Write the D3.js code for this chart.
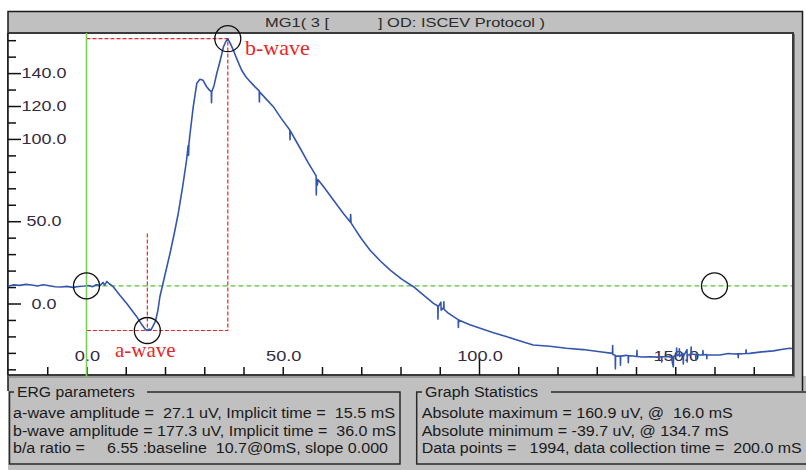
<!DOCTYPE html>
<html><head><meta charset="utf-8">
<script src="https://cdn.jsdelivr.net/npm/d3@7"></script>
<style>
body{margin:0;background:#fff}
svg{display:block}
text{font-family:"Liberation Sans",Arial,sans-serif;white-space:pre}
</style>
</head><body>
<svg id="chart" width="806" height="470"></svg>
<script>
// ---------------- data ----------------
const traceMs = [-20,-18.5,-17,-15.5,-14,-12.5,-11,-9.5,-8,-6.5,-5,-3.5,-2,-0.5,0.5,1.5,2.5,3.5,4.2,4.6,5.2,5.8,6.8,8.5,10.2,11.5,12.8,14.0,15.0,15.5,16.0,16.4,17.0,17.6,18.2,18.7,20.0,21.3,22.4,23.4,24.5,25.5,25.9,26.0,26.1,26.4,27.2,28.1,28.9,29.7,30.6,31.4,31.8,31.85,31.9,32.5,33.2,34.0,34.9,35.5,36.0,36.6,37.4,38.4,39.5,40.6,41.7,43.0,44.0,44.05,44.1,45.8,47.6,49.6,51.8,51.85,51.9,53.2,54.4,56.5,58.5,58.55,58.6,58.8,59.0,60.7,62.9,65.5,67.2,67.3,67.4,68.0,70.0,72.2,74.8,77.3,80.3,83.3,85.8,88.4,89.5,89.55,89.6,90.3,90.35,91.0,91.05,91.1,92.0,93.5,94.7,94.75,94.8,97.5,100.3,103.7,107.1,110.5,113.8,118.0,122.3,126.5,130.8,
  134.0,134.05,134.1,134.7,134.75,134.8,136.0,136.05,136.1,137.5,138.0,138.05,138.1,139.3,140.2,140.25,140.3,141.5,143.7,145.5,146.5,146.55,146.6,147.8,149.0,149.5,149.6,150.3,150.35,150.4,151.0,151.05,151.1,152.0,152.05,152.1,153.0,153.05,153.1,154.0,154.05,154.1,154.5,155.2,155.25,155.3,156.3,157.0,157.05,157.1,158.0,158.05,158.1,161.4,163.5,165.0,166.0,166.05,166.1,168.0,168.05,168.1,169.0,172.0,175.0,177.0,179.2,180];
const traceUv = [10.5,11.3,11.0,11.6,11.2,10.6,11.4,10.8,10.2,10.0,10.4,9.8,10.3,10.6,10.9,10.2,11.4,11.0,12.8,11.2,13.4,12.0,10.2,5.0,0.1,-4.0,-8.0,-12.5,-15.8,-16.4,-15.6,-16.2,-13.5,-10.5,-4.0,4.1,17.5,30.7,43,55,71,87.2,96,90,97,103.6,119.6,133.8,136.2,135.6,131.7,129.5,128.7,122.0,128.5,132.5,139.9,147.0,156,159.2,160.9,158.2,154,148,141.9,137.8,134.8,131.5,129.2,122.5,128.6,124.2,119.6,112.5,105.4,99.5,105.0,99.5,94.5,85.5,77.5,66.0,76.0,72.0,75.2,70.0,62.9,54.5,49.5,54.0,49.0,46.7,39.5,32.5,26.0,20.4,14.8,10.2,5.3,0.1,-1.5,-9.5,-2.0,0.8,-4.0,-2.5,1.0,-3.5,-5.5,-8.0,-9.8,-14.5,-10.0,-12.8,-15.1,-17.8,-20.2,-22.8,-25.2,-26.0,-27.2,-28.0,-29.3,
  -30.3,-25.5,-31.0,-31.5,-39.7,-31.8,-32.0,-37.5,-32.0,-31.5,-31.8,-36.0,-31.8,-31.9,-32.2,-28.5,-32.2,-32.5,-32.4,-32.6,-32.4,-35.5,-32.4,-32.3,-32.5,-38.5,-32.0,-31.5,-27.0,-31.8,-31.0,-27.5,-32.2,-30.5,-36.8,-32.0,-28.0,-35.5,-31.5,-30.8,-26.5,-30.8,-30.8,-31.0,-34.5,-31.0,-31.3,-31.2,-28.6,-31.2,-31.0,-33.5,-31.2,-31.3,-30.4,-30.7,-30.6,-33.0,-30.6,-30.4,-28.2,-30.4,-30.3,-29.4,-28.8,-28.0,-27.2,-27.4];

const baselineUv = 10.7;
const aWave = {ms: 15.5, uv: -16.4};
const bWave = {ms: 36.0, uv: 160.9};
const aMarkTopUv = 42.5;
const circleMs = [0, 15.5, 36.0, 160];
const circleUv = [10.7, -16.4, 160.9, 10.7];

const yTickValues = d3.range(-40, 161, 10);
const yLabelValues = [0, 50, 100, 120, 140];
const xTickValues = d3.range(-10, 171, 10);
const xLabelValues = [0, 50, 100, 150];

const titleLeft = "MG1( 3 [";
const titleRight = "] OD: ISCEV Protocol )";
const ergTitle = "ERG parameters";
const ergLines = [
  "a-wave amplitude =  27.1 uV, Implicit time =  15.5 mS",
  "b-wave amplitude = 177.3 uV, Implicit time =  36.0 mS",
  "b/a ratio =     6.55 :baseline  10.7@0mS, slope 0.000"
];
const statTitle = "Graph Statistics";
const statLines = [
  "Absolute maximum = 160.9 uV, @  16.0 mS",
  "Absolute minimum = -39.7 uV, @ 134.7 mS",
  "Data points =   1994, data collection time =  200.0 mS"
];

// ---------------- layout ----------------
const svg = d3.select("#chart");
const P = {l: 8, r: 793, t: 33, b: 375};
const x = d3.scaleLinear().domain([-20, 180]).range([P.l, P.r]);
const y = d3.scaleLinear().domain([0, 140]).range([303.5, 73.1]);

function txt(g, px, py, s, size, width, anchor, color, family) {
  const t = g.append("text").attr("x", px).attr("y", py)
    .attr("font-size", size).attr("fill", color || "#1a1a1a")
    .attr("text-anchor", anchor || "start").text(s);
  if (family) t.style("font-family", family);
  if (width) t.attr("textLength", width).attr("lengthAdjust", "spacingAndGlyphs");
  return t;
}

// outer frame + gray
svg.append("rect").attr("x", 8).attr("y", 11.5).attr("width", 794).attr("height", 380).attr("fill", "#c0c0c0");
svg.append("rect").attr("x", 8).attr("y", 376).attr("width", 798).attr("height", 94).attr("fill", "#c0c0c0");
svg.append("path").attr("d", "M8,391V11.5H802.5V391").attr("fill", "none").attr("stroke", "#1a1a1a").attr("stroke-width", 1.5);

// title
txt(svg, 265, 27, titleLeft, 13, 64, "start", "#2a2a2a");
txt(svg, 378, 27, titleRight, 13, 167, "start", "#2a2a2a");

// plot area
svg.append("rect").attr("x", P.l).attr("y", P.t).attr("width", P.r - P.l).attr("height", P.b - P.t).attr("fill", "#fff");
svg.append("path").attr("d", `M${P.l},${P.t}H${P.r}V${P.b}H${P.l}`).attr("fill", "none").attr("stroke", "#3a3a3a").attr("stroke-width", 2);
svg.append("path").attr("d", `M${P.l},${P.t}V${P.b}`).attr("stroke", "#111").attr("stroke-width", 1.5);
svg.append("path").attr("d", `M${P.r+1.5},${P.t+1}V${P.b+2}H${P.l}`).attr("fill", "none").attr("stroke", "#777").attr("stroke-width", 1);

// y axis ticks
const yAxis = d3.axisRight(y).tickValues(yTickValues).tickSize(8).tickFormat("");
const gy = svg.append("g").attr("transform", `translate(${P.l},0)`).call(yAxis);
gy.select(".domain").remove();
gy.selectAll(".tick line").attr("stroke", "#111").attr("stroke-width", 1.5)
  .attr("x2", d => yLabelValues.includes(d) ? 13 : 8);

// x axis ticks
const xAxis = d3.axisTop(x).tickValues(xTickValues).tickSize(8).tickFormat("");
const gx = svg.append("g").attr("transform", `translate(0,${P.b})`).call(xAxis);
gx.select(".domain").remove();
gx.selectAll(".tick line").attr("stroke", "#111").attr("stroke-width", 1.5)
  .attr("y2", d => d === 100 ? -17 : -8);

// tick labels (horizontally stretched like the reference)
const labG = svg.append("g");
yLabelValues.forEach(v => {
  const t = txt(labG, 44, y(v) + 5, d3.format(".1f")(v), 14, null, "middle", "#342c40");
  const w = t.node().getComputedTextLength();
  t.attr("textLength", w * 1.28).attr("lengthAdjust", "spacingAndGlyphs");
});
xLabelValues.forEach(v => {
  const t = txt(labG, x(v) + 1, 361, d3.format(".1f")(v), 14, null, "middle", "#342c40");
  const w = t.node().getComputedTextLength();
  t.attr("textLength", w * 1.3).attr("lengthAdjust", "spacingAndGlyphs");
});

// clip
svg.append("clipPath").attr("id", "clip").append("rect")
  .attr("x", P.l).attr("y", P.t).attr("width", P.r - P.l - 1).attr("height", P.b - P.t);
const plot = svg.append("g").attr("clip-path", "url(#clip)");

// green reference lines
svg.append("line").attr("x1", x(0)).attr("x2", x(0)).attr("y1", P.t).attr("y2", P.b + 2)
  .attr("stroke", "#7ccc5a").attr("stroke-width", 1.6);
plot.append("line").attr("x1", x(0)).attr("x2", P.r).attr("y1", y(baselineUv)).attr("y2", y(baselineUv))
  .attr("stroke", "#5cc03a").attr("stroke-width", 1.2).attr("stroke-dasharray", "5,3");

// red dashed measurement lines
const red = {stroke: "#e8262a", w: 1.2, dash: "4,2"};
const redPaths = [
  [[0, bWave.uv], [bWave.ms, bWave.uv], [bWave.ms, aWave.uv], [0, aWave.uv]],
  [[aWave.ms, aMarkTopUv], [aWave.ms, aWave.uv]]
];
const lineGen = d3.line().x(d => x(d[0])).y(d => y(d[1]));
redPaths.forEach(p => plot.append("path").attr("d", lineGen(p)).attr("fill", "none")
  .attr("stroke", red.stroke).attr("stroke-width", red.w).attr("stroke-dasharray", red.dash));

// the trace
const trace = traceMs.map((t, i) => [t, traceUv[i]]);
plot.append("path").attr("d", lineGen(trace)).attr("fill", "none")
  .attr("stroke", "#3556ad").attr("stroke-width", 1.6).attr("stroke-linejoin", "round");

// marker circles
circleMs.forEach((t, i) => {
  svg.append("circle").attr("cx", x(t)).attr("cy", y(circleUv[i])).attr("r", 13)
    .attr("fill", "none").attr("stroke", "#111").attr("stroke-width", 1.3);
});

// annotations
txt(svg, 245, 55, "b-wave", 22, null, "start", "#e8262a", '"Liberation Serif","Times New Roman",serif');
txt(svg, 115, 357, "a-wave", 21, null, "start", "#e8262a", '"Liberation Serif","Times New Roman",serif');

// bottom group boxes
svg.append("path").attr("d", "M14,392H9.5V464H400V392H147").attr("fill", "none").attr("stroke", "#2a2a2a").attr("stroke-width", 1.5);
svg.append("path").attr("d", "M422,392H416.7V464H806M551,392H806").attr("fill", "none").attr("stroke", "#2a2a2a").attr("stroke-width", 1.5);
txt(svg, 17, 397, ergTitle, 14, 118);
txt(svg, 425, 397, statTitle, 14, 113);
const ergW = [382, 383, 375];
ergLines.forEach((s, i) => txt(svg, 13, 418 + i * 17.5, s, 14, ergW[i]));
const statW = [311, 307, 380];
statLines.forEach((s, i) => txt(svg, 421.7, 418 + i * 17.5, s, 14, statW[i]));
</script>
</body></html>
